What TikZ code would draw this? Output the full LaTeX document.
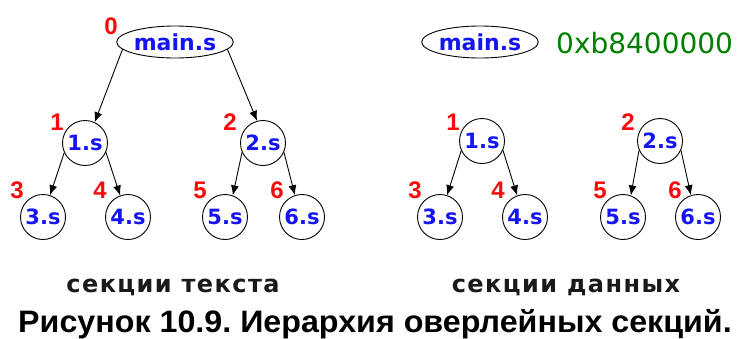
\documentclass[tikz,border=0pt]{standalone}
\usepackage{fontspec}
\setmainfont{Liberation Sans}
\newfontfamily\labfont{DejaVu Sans}
\usetikzlibrary{shapes.geometric,arrows.meta}
\frenchspacing

\definecolor{secblue}{RGB}{20,20,245}
\definecolor{numred}{RGB}{250,10,10}
\definecolor{addrgreen}{RGB}{0,128,0}

\tikzset{
  sect/.style={circle, draw=black, line width=0.9pt, minimum size=45pt, inner sep=0pt,
    font=\labfont\bfseries\fontsize{21}{21}\selectfont, text=secblue},
  rootsect/.style={ellipse, draw=black, line width=0.9pt, minimum width=106pt, minimum height=32pt,
    inner sep=0pt, font=\labfont\bfseries\fontsize{22}{22}\selectfont, text=secblue},
  num/.style={font=\bfseries\fontsize{24}{24}\selectfont, text=numred, inner sep=0pt},
  link/.style={draw=black, line width=0.9pt, -{Latex[length=10pt,width=8pt]}},
  title/.style={font=\labfont\bfseries\fontsize{24}{24}\selectfont, text=black!90, inner sep=0pt, anchor=base}
}

\begin{document}
\begin{tikzpicture}[x=1pt, y=-1pt]
\useasboundingbox[fill=white] (0,0) rectangle (737,338);

% text sections
\node [rootsect] (tmain) at (175,42) {main.s};
\node [sect] (t1) at (85,143) {1.s};
\node [sect] (t2) at (263,143) {2.s};
\node [sect] (t3) at (43,217) {3.s};
\node [sect] (t4) at (128,217) {4.s};
\node [sect] (t5) at (225,217) {5.s};
\node [sect] (t6) at (302,217) {6.s};

\node [num] (tn0) at (111,26) {0};
\node [num] (tn1) at (57,122) {1};
\node [num] (tn2) at (230,122) {2};
\node [num] (tn3) at (17,190) {3};
\node [num] (tn4) at (100,190) {4};
\node [num] (tn5) at (200,190) {5};
\node [num] (tn6) at (277,190) {6};

\draw [link] (tmain.188) -- (t1.65);
\draw [link] (tmain.352) -- (t2.105);
\draw [link] (t1.205) -- (t3.72);
\draw [link] (t1.336) -- (t4.110);
\draw [link] (t2.204) -- (t5.70);
\draw [link] (t2.336) -- (t6.108);

% data sections
\node [rootsect] (dmain) at (480,42) {main.s};
\node [font=\labfont\fontsize{28}{28}\selectfont, text=addrgreen, anchor=west, inner sep=0pt]
  (addr) at (556,43) {0xb8400000};
\node [sect] (d1) at (482,141) {1.s};
\node [sect] (d2) at (660,141) {2.s};
\node [sect] (d3) at (440,217) {3.s};
\node [sect] (d4) at (525,217) {4.s};
\node [sect] (d5) at (623,217) {5.s};
\node [sect] (d6) at (698,217) {6.s};

\node [num] (dn1) at (453,122) {1};
\node [num] (dn2) at (628,122) {2};
\node [num] (dn3) at (415,190) {3};
\node [num] (dn4) at (498,190) {4};
\node [num] (dn5) at (600,190) {5};
\node [num] (dn6) at (675,190) {6};

\draw [link] (d1.205) -- (d3.72);
\draw [link] (d1.336) -- (d4.110);
\draw [link] (d2.204) -- (d5.70);
\draw [link] (d2.336) -- (d6.108);

% captions
\node [title] (ttext) at (173,292) {\addfontfeature{LetterSpace=6}секции текста};
\node [title] (tdata) at (566,292) {\addfontfeature{LetterSpace=6}секции данных};
\node [font=\bfseries\fontsize{31}{31}\selectfont, inner sep=0pt, anchor=base] (fig) at (375,332)
  {\scalebox{1.04}[1]{Рисунок 10.9. Иерархия оверлейных секций.}};
\end{tikzpicture}
\end{document}
